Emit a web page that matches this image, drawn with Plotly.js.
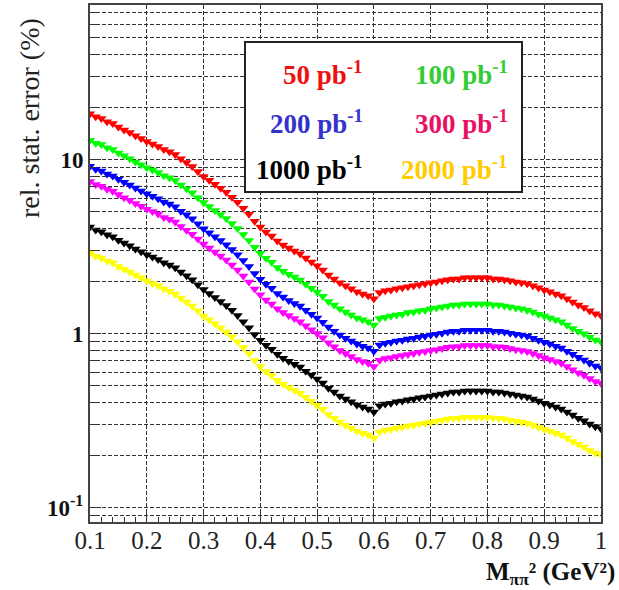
<!DOCTYPE html>
<html>
<head>
<meta charset="utf-8">
<script src="https://cdn.plot.ly/plotly-3.0.1.min.js"></script>
<style>html,body{margin:0;padding:0;background:#fff;}#chart{width:619px;height:590px;}</style>
</head>
<body>
<div id="chart"></div>
<script>
// ---- data ----
const xVals = [0.10,0.11,0.12,0.13,0.14,0.15,0.16,0.17,0.18,0.19,
  0.20,0.21,0.22,0.23,0.24,0.25,0.26,0.27,0.28,0.29,
  0.30,0.31,0.32,0.33,0.34,0.35,0.36,0.37,0.38,0.39,
  0.40,0.41,0.42,0.43,0.44,0.45,0.46,0.47,0.48,0.49,
  0.50,0.51,0.52,0.53,0.54,0.55,0.56,0.57,0.58,0.59,
  0.60,0.61,0.62,0.63,0.64,0.65,0.66,0.67,0.68,0.69,
  0.70,0.71,0.72,0.73,0.74,0.75,0.76,0.77,0.78,0.79,
  0.80,0.81,0.82,0.83,0.84,0.85,0.86,0.87,0.88,0.89,
  0.90,0.91,0.92,0.93,0.94,0.95,0.96,0.97,0.98,0.99,1.00];

const err50 = [18.3,17.6,17.2,16.5,16.1,15.4,14.8,14.3,13.7,13.2,
  12.7,12.3,11.9,11.4,11.1,10.7,10.1,9.61,9.12,8.54,
  8.00,7.59,7.20,6.83,6.48,6.07,5.68,5.25,4.85,4.42,
  4.09,3.83,3.63,3.40,3.23,3.10,2.98,2.87,2.72,2.58,
  2.45,2.32,2.17,2.06,1.96,1.88,1.81,1.74,1.69,1.65,
  1.585,1.72,1.76,1.78,1.81,1.83,1.86,1.88,1.91,1.93,
  1.96,1.98,2.01,2.04,2.06,2.06,2.09,2.09,2.09,2.09,
  2.09,2.06,2.06,2.04,2.01,1.98,1.96,1.93,1.88,1.83,
  1.78,1.74,1.69,1.65,1.585,1.52,1.46,1.41,1.35,1.30,1.27];

const err100 = [12.9,12.4,12.2,11.7,11.4,10.9,10.5,10.1,9.69,9.33,
  8.98,8.70,8.41,8.06,7.85,7.57,7.14,6.80,6.45,6.04,
  5.66,5.37,5.09,4.83,4.58,4.29,4.02,3.71,3.43,3.13,
  2.89,2.71,2.57,2.40,2.28,2.19,2.11,2.03,1.92,1.82,
  1.73,1.64,1.53,1.46,1.39,1.33,1.28,1.23,1.20,1.17,
  1.12,1.22,1.24,1.26,1.28,1.29,1.32,1.33,1.35,1.36,
  1.39,1.40,1.42,1.44,1.46,1.46,1.48,1.48,1.48,1.48,
  1.48,1.46,1.46,1.44,1.42,1.40,1.39,1.36,1.33,1.29,
  1.26,1.23,1.20,1.17,1.12,1.07,1.03,0.997,0.955,0.919,0.898];

const err200 = [9.15,8.80,8.60,8.25,8.05,7.70,7.40,7.15,6.85,6.60,
  6.35,6.15,5.95,5.70,5.55,5.35,5.05,4.81,4.56,4.27,
  4.00,3.80,3.60,3.42,3.24,3.04,2.84,2.63,2.43,2.21,
  2.05,1.92,1.82,1.70,1.62,1.55,1.49,1.44,1.36,1.29,
  1.23,1.16,1.09,1.03,0.98,0.94,0.905,0.87,0.845,0.825,
  0.79,0.86,0.88,0.89,0.905,0.915,0.93,0.94,0.955,0.965,
  0.98,0.99,1.005,1.02,1.03,1.03,1.045,1.045,1.045,1.045,
  1.045,1.03,1.03,1.02,1.005,0.99,0.98,0.965,0.94,0.915,
  0.89,0.87,0.845,0.825,0.79,0.76,0.73,0.705,0.675,0.65,0.635];

const err300 = [7.47,7.18,7.02,6.74,6.57,6.29,6.04,5.84,5.59,5.39,
  5.18,5.02,4.86,4.65,4.53,4.37,4.12,3.92,3.72,3.49,
  3.27,3.10,2.94,2.79,2.65,2.48,2.32,2.14,1.98,1.80,
  1.67,1.56,1.48,1.39,1.32,1.27,1.22,1.17,1.11,1.05,
  1.00,0.947,0.886,0.841,0.800,0.767,0.739,0.710,0.690,0.674,
  0.647,0.702,0.718,0.727,0.739,0.747,0.759,0.767,0.780,0.788,
  0.800,0.808,0.820,0.833,0.841,0.841,0.853,0.853,0.853,0.853,
  0.853,0.841,0.841,0.833,0.820,0.808,0.800,0.788,0.767,0.747,
  0.727,0.710,0.690,0.674,0.647,0.620,0.596,0.576,0.551,0.531,0.518];

const err1000 = [4.09,3.94,3.85,3.69,3.60,3.44,3.31,3.20,3.06,2.95,
  2.84,2.75,2.66,2.55,2.48,2.39,2.26,2.15,2.04,1.91,
  1.79,1.70,1.61,1.53,1.45,1.36,1.27,1.17,1.08,0.988,
  0.915,0.856,0.812,0.760,0.722,0.693,0.666,0.642,0.608,0.577,
  0.548,0.519,0.485,0.461,0.438,0.420,0.405,0.389,0.378,0.369,
  0.354,0.385,0.394,0.398,0.405,0.409,0.416,0.420,0.427,0.432,
  0.438,0.443,0.449,0.456,0.461,0.461,0.467,0.467,0.467,0.467,
  0.467,0.461,0.461,0.456,0.449,0.443,0.438,0.432,0.420,0.409,
  0.398,0.389,0.378,0.369,0.354,0.340,0.326,0.315,0.302,0.291,0.284];

const err2000 = [2.89,2.78,2.72,2.61,2.55,2.43,2.34,2.26,2.17,2.09,
  2.01,1.94,1.88,1.80,1.75,1.69,1.60,1.52,1.44,1.35,
  1.26,1.20,1.14,1.08,1.02,0.960,0.898,0.830,0.767,0.699,
  0.647,0.606,0.574,0.538,0.511,0.490,0.471,0.454,0.430,0.408,
  0.387,0.367,0.343,0.326,0.310,0.297,0.286,0.275,0.267,0.261,
  0.251,0.272,0.278,0.281,0.286,0.289,0.294,0.297,0.302,0.305,
  0.310,0.313,0.318,0.323,0.326,0.326,0.330,0.330,0.330,0.330,
  0.330,0.326,0.326,0.323,0.318,0.313,0.310,0.305,0.297,0.289,
  0.281,0.275,0.267,0.261,0.251,0.240,0.231,0.223,0.213,0.206,0.201];

const seriesNames = ['50 pb<sup>-1</sup>','100 pb<sup>-1</sup>','200 pb<sup>-1</sup>',
                     '300 pb<sup>-1</sup>','1000 pb<sup>-1</sup>','2000 pb<sup>-1</sup>'];
const seriesData = [err50, err100, err200, err300, err1000, err2000];

const xTickVals = [0.1,0.2,0.3,0.4,0.5,0.6,0.7,0.8,0.9,1.0];
const xTickText = ['0.1','0.2','0.3','0.4','0.5','0.6','0.7','0.8','0.9','1'];
const yTickVals = [0.1, 1, 10];
const yTickText = ['<b>10<sup>-1</sup></b>','<b>1</b>','<b>10</b>'];
const yMinorVals = [0.09,0.2,0.3,0.4,0.5,0.6,0.7,0.8,0.9,2,3,4,5,6,7,8,9,20,30,40,50,60,70];

// ---- styling ----
const markerColors = ['#ff0000','#00ff00','#0000ff','#ff00ff','#000000','#ffff00'];
const labelColors  = ['#ee1111','#33cc33','#3333cc','#e8115f','#000000','#ffcc00'];
const serif = 'Liberation Serif, Times New Roman, serif';

const traces = seriesData.map((ys, i) => ({
  x: xVals, y: ys, type: 'scatter', mode: 'markers', name: seriesNames[i],
  marker: {symbol: 'triangle-down', size: 9, color: markerColors[i], line: {width: 0}},
  hoverinfo: 'skip'
}));

// plot area in pixels: x 90..601, y 5..522
const L = 90, R = 601, T = 5, B = 522;
const px = v => (v - L) / (R - L);
const py = v => (B - v) / (B - T);

const legendPos = [
  {x: 365, y: 73}, {x: 510, y: 73},
  {x: 365, y: 122}, {x: 510, y: 122},
  {x: 365, y: 168}, {x: 510, y: 168}
];

const annotations = seriesNames.map((t, i) => ({
  text: '<b>' + t + '</b>', xref: 'paper', yref: 'paper',
  x: px(legendPos[i].x), y: py(legendPos[i].y), xanchor: 'right', yanchor: 'middle',
  showarrow: false, font: {family: serif, size: 27, color: labelColors[i]}
}));

annotations.push({
  text: '<b>M<sub>ππ</sub>² (GeV²)</b>', xref: 'paper', yref: 'paper',
  x: px(616), y: py(590), xanchor: 'right', yanchor: 'bottom', showarrow: false,
  borderpad: 0,
  font: {family: serif, size: 25, color: '#111'}
});
annotations.push({
  text: 'rel. stat. error (%)', xref: 'paper', yref: 'paper', textangle: -90,
  x: px(29), y: py(16), xanchor: 'center', yanchor: 'top', showarrow: false,
  font: {family: serif, size: 28, color: '#222'}
});

const gridStyle = {gridcolor: '#333', gridwidth: 1, griddash: '4px,2px'};

const layout = {
  width: 619, height: 590,
  margin: {l: L, r: 619 - R, t: T, b: 590 - B, pad: 0},
  paper_bgcolor: '#fff', plot_bgcolor: '#fff',
  showlegend: false,
  xaxis: Object.assign({
    range: [0.1, 1.0], tickmode: 'array', tickvals: xTickVals, ticktext: xTickText,
    ticks: 'inside', ticklen: 10, tickcolor: '#333', tickwidth: 1,
    ticklabelstandoff: -5,
    showgrid: true, zeroline: false,
    showline: true, mirror: true, linecolor: '#444', linewidth: 2,
    tickfont: {family: serif, size: 25, color: '#222'},
    minor: {tick0: 0.1, dtick: 0.02, ticks: 'inside', ticklen: 5, tickcolor: '#333', showgrid: false}
  }, gridStyle),
  yaxis: Object.assign({
    type: 'log', range: [-1.083, 1.888], tickmode: 'array', tickvals: yTickVals, ticktext: yTickText,
    ticks: 'inside', ticklen: 11, tickcolor: '#333', tickwidth: 1,
    showgrid: true, zeroline: false,
    showline: true, mirror: true, linecolor: '#444', linewidth: 2,
    tickfont: {family: serif, size: 23, color: '#111'},
    minor: Object.assign({tickmode: 'array', tickvals: yMinorVals, ticks: 'inside', ticklen: 6,
                          tickcolor: '#333', showgrid: true}, gridStyle)
  }, gridStyle),
  shapes: [{
    type: 'rect', xref: 'paper', yref: 'paper',
    x0: px(245), x1: px(522), y0: py(192), y1: py(42),
    fillcolor: '#fff', line: {color: '#222', width: 2}, layer: 'above'
  }],
  annotations: annotations
};

Plotly.newPlot('chart', traces, layout, {displayModeBar: false, staticPlot: true});
</script>
</body>
</html>
